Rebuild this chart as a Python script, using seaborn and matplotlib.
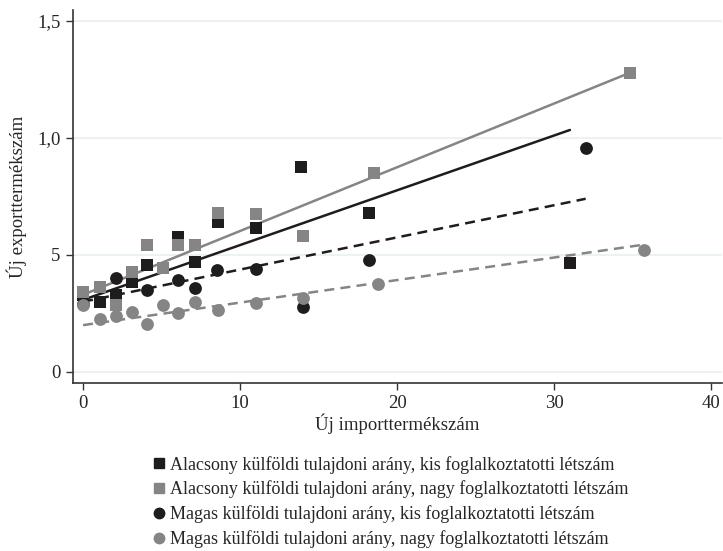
import matplotlib
matplotlib.use("Agg")
import matplotlib.pyplot as plt
import seaborn as sns
import pandas as pd

# binned means: x = new import products, y = new export products
sq_black_x = [0, 1.1, 2.1, 3.1, 4.1, 6.05, 7.1, 8.6, 11.0, 13.9, 18.2, 31.0]
sq_black_y = [0.33, 0.30, 0.33, 0.385, 0.457, 0.577, 0.47, 0.64, 0.615, 0.876, 0.68, 0.466]

sq_gray_x = [0, 1.1, 2.1, 3.1, 4.1, 5.1, 6.05, 7.1, 8.6, 11.0, 14.0, 18.5, 34.8]
sq_gray_y = [0.342, 0.363, 0.286, 0.427, 0.543, 0.444, 0.543, 0.543, 0.68, 0.675, 0.58, 0.85, 1.278]

ci_black_x = [0, 2.1, 4.1, 6.05, 7.1, 8.5, 11.0, 14.0, 18.2, 32.0]
ci_black_y = [0.29, 0.40, 0.35, 0.393, 0.36, 0.436, 0.44, 0.278, 0.479, 0.957]

ci_gray_x = [0, 1.1, 2.1, 3.1, 4.1, 5.1, 6.05, 7.1, 8.6, 11.0, 14.0, 18.8, 35.7]
ci_gray_y = [0.286, 0.226, 0.24, 0.256, 0.205, 0.286, 0.25, 0.30, 0.265, 0.295, 0.316, 0.376, 0.52]

# fitted line endpoints
fit_sq_black_x = [0, 31.0]
fit_sq_black_y = [0.308, 1.034]
fit_sq_gray_x = [0, 34.8]
fit_sq_gray_y = [0.33, 1.278]
fit_ci_black_x = [0, 32.0]
fit_ci_black_y = [0.30, 0.74]
fit_ci_gray_x = [0, 35.6]
fit_ci_gray_y = [0.20, 0.543]

labels = [
    "Alacsony külföldi tulajdoni arány, kis foglalkoztatotti létszám",
    "Alacsony külföldi tulajdoni arány, nagy foglalkoztatotti létszám",
    "Magas külföldi tulajdoni arány, kis foglalkoztatotti létszám",
    "Magas külföldi tulajdoni arány, nagy foglalkoztatotti létszám",
]
ytick_vals = [0, 0.5, 1.0, 1.5]
ytick_labels = ["0", "5", "1,0", "1,5"]
xtick_vals = [0, 10, 20, 30, 40]

sns.set_style("white")
plt.rcParams["font.family"] = ["Liberation Serif", "DejaVu Serif"]

dark = "#1f1c1d"
gray = "#858585"

fig = plt.figure(figsize=(7.23, 5.51), dpi=100)
ax = fig.add_axes([0.101, 0.305, 0.898, 0.677])

for y in ytick_vals:
    ax.axhline(y, color="#e8f0f2", lw=1.2, zorder=0)

# fitted lines
sns.lineplot(x=fit_sq_black_x, y=fit_sq_black_y, color=dark, lw=1.8, ax=ax, zorder=3)
sns.lineplot(x=fit_sq_gray_x, y=fit_sq_gray_y, color=gray, lw=1.8, ax=ax, zorder=3)
sns.lineplot(x=fit_ci_black_x, y=fit_ci_black_y, color=dark, lw=1.8,
             linestyle=(0, (4, 2.5)), ax=ax, zorder=3)
sns.lineplot(x=fit_ci_gray_x, y=fit_ci_gray_y, color=gray, lw=1.8,
             linestyle=(0, (4, 2.5)), ax=ax, zorder=3)

series = [
    (sq_black_x, sq_black_y, dark, "s", labels[0]),
    (sq_gray_x, sq_gray_y, gray, "s", labels[1]),
    (ci_black_x, ci_black_y, dark, "o", labels[2]),
    (ci_gray_x, ci_gray_y, gray, "o", labels[3]),
]
for i, (xs, ys, c, m, lab) in enumerate(series):
    sns.scatterplot(x=xs, y=ys, color=c, marker=m, s=85, linewidth=0,
                    label=lab, ax=ax, zorder=4 + i, legend=False)

ax.set_xlim(-0.64, 40.7)
ax.set_ylim(-0.047, 1.547)
ax.set_xticks(xtick_vals)
ax.set_xticklabels([str(v) for v in xtick_vals], fontsize=13.5)
ax.set_yticks(ytick_vals)
ax.set_yticklabels(ytick_labels, fontsize=13.5)
ax.tick_params(axis="both", direction="out", length=5, width=1, color="#333333",
               left=True, bottom=True, pad=4)
ax.set_xlabel("Új importtermékszám", fontsize=13.5, labelpad=1)
ax.set_ylabel("Új exporttermékszám", fontsize=13.5, labelpad=7)
sns.despine(ax=ax)
for s in ["left", "bottom"]:
    ax.spines[s].set_color("#333333")
    ax.spines[s].set_linewidth(1.2)

handles = [
    plt.Line2D([], [], marker=m, color=c, linestyle="", markersize=7.5)
    for (_, _, c, m, _) in series
]
fig.legend(handles, labels, loc="upper left", bbox_to_anchor=(0.198, 0.186),
           frameon=False, fontsize=13, handletextpad=0.1, handlelength=1.0,
           labelspacing=0.38, borderaxespad=0)

fig.savefig("out.png", dpi=100)
